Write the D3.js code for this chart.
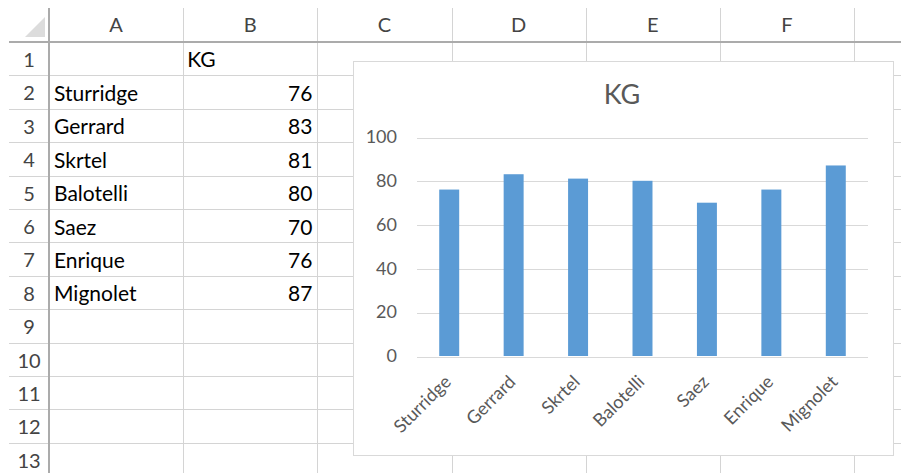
<!DOCTYPE html>
<meta charset="utf-8">
<style>
    body {
        margin: 0;
        background: #fff;
        font-family: Lato, "Open Sans", sans-serif;
    }

    .grid line {
        stroke: #d4d4d4;
        stroke-width: 1;
        shape-rendering: crispEdges;
    }

    .cell {
        font-size: 21px;
        fill: #000;
    }

    .head {
        font-size: 20px;
        fill: #444;
    }

    .y.axis line {
        stroke: #d9d9d9;
        shape-rendering: crispEdges;
    }

    .axis text {
        font-size: 18px;
        fill: #595959;
        font-family: Lato, "Open Sans", sans-serif;
    }
</style>

<body>
    <script src="https://d3js.org/d3.v7.min.js"></script>
    <script>

        // sheet data
        var players = ["Sturridge", "Gerrard", "Skrtel", "Balotelli", "Saez", "Enrique", "Mignolet"];
        var kg = [76, 83, 81, 80, 70, 76, 87];
        var seriesName = "KG";
        var colLetters = ["A", "B", "C", "D", "E", "F"];
        var rowNumbers = d3.range(1, 14);
        var yTicks = [0, 20, 40, 60, 80, 100];

        var W = 901, H = 473;

        var svg = d3.select("body")
            .append("svg")
            .attr("width", W)
            .attr("height", H);

        // spreadsheet grid
        var rowY = d3.scaleLinear().domain([0, 13]).range([42, 42 + 33.4 * 13]);
        var colX = d3.scaleLinear().domain([0, 6]).range([49, 854]);

        var grid = svg.append("g").attr("class", "grid");

        // horizontal row lines
        grid.selectAll(".rl")
            .data(d3.range(1, 14))
            .enter().append("line")
            .attr("x1", 9).attr("x2", W)
            .attr("y1", d => Math.round(rowY(d)) + 0.5)
            .attr("y2", d => Math.round(rowY(d)) + 0.5);

        // vertical column lines
        grid.selectAll(".cl")
            .data(d3.range(1, 7))
            .enter().append("line")
            .attr("x1", d => Math.round(colX(d)) + 0.5)
            .attr("x2", d => Math.round(colX(d)) + 0.5)
            .attr("y1", 8).attr("y2", H);

        // heavier header borders
        svg.append("line")
            .attr("x1", 9).attr("x2", W)
            .attr("y1", 42).attr("y2", 42)
            .attr("stroke", "#ababab").attr("stroke-width", 2);
        svg.append("line")
            .attr("x1", 49).attr("x2", 49)
            .attr("y1", 8).attr("y2", H)
            .attr("stroke", "#ababab").attr("stroke-width", 2);

        // corner triangle
        svg.append("path")
            .attr("d", "M25,37L45,37L45,17Z")
            .attr("fill", "#dcdcdc");

        // column letters
        svg.selectAll(".colhead")
            .data(colLetters)
            .enter().append("text")
            .attr("class", "head")
            .attr("x", (d, i) => (colX(i) + colX(i + 1)) / 2)
            .attr("y", 32)
            .attr("text-anchor", "middle")
            .text(d => d);

        // row numbers
        svg.selectAll(".rowhead")
            .data(rowNumbers)
            .enter().append("text")
            .attr("class", "head")
            .attr("x", 29)
            .attr("y", d => rowY(d - 1) + 25)
            .attr("text-anchor", "middle")
            .text(d => d);

        // cell contents
        svg.append("text")
            .attr("class", "cell")
            .attr("x", colX(1) + 4)
            .attr("y", rowY(0) + 25)
            .text(seriesName);

        svg.selectAll(".name")
            .data(players)
            .enter().append("text")
            .attr("class", "cell")
            .attr("x", colX(0) + 5)
            .attr("y", (d, i) => rowY(i + 1) + 25.5)
            .text(d => d);

        svg.selectAll(".val")
            .data(kg)
            .enter().append("text")
            .attr("class", "cell")
            .attr("x", colX(2) - 5)
            .attr("y", (d, i) => rowY(i + 1) + 25.5)
            .attr("text-anchor", "end")
            .text(d => d);

        // chart box
        svg.append("rect")
            .attr("x", 353.5).attr("y", 61.5)
            .attr("width", 540).attr("height", 394)
            .attr("fill", "#fff")
            .attr("stroke", "#d9d9d9");

        svg.append("text")
            .attr("x", 622)
            .attr("y", 104)
            .attr("text-anchor", "middle")
            .attr("font-size", "27px")
            .attr("fill", "#595959")
            .text(seriesName);

        var x = d3.scaleBand()
            .domain(players)
            .range([417, 868])
            .paddingInner(0.69)
            .paddingOuter(0.345);

        var y = d3.scaleLinear()
            .domain([0, 100])
            .range([356, 137]);

        // y axis + gridlines
        var yAxis = svg.append("g")
            .attr("class", "y axis")
            .attr("transform", "translate(417,0)")
            .call(d3.axisLeft(y).tickValues(yTicks).tickSize(-(868 - 417)).tickPadding(20));
        yAxis.select(".domain").remove();
        yAxis.selectAll(".tick line")
            .attr("transform", "translate(0,0.5)");

        // bars
        svg.selectAll(".bar")
            .data(kg)
            .enter().append("rect")
            .attr("class", "bar")
            .attr("x", (d, i) => x(players[i]))
            .attr("width", x.bandwidth())
            .attr("y", d => y(d))
            .attr("height", d => y(0) - y(d))
            .attr("fill", "#5b9bd5");

        // x axis labels
        var xAxis = svg.append("g")
            .attr("class", "x axis")
            .attr("transform", "translate(0," + y(0) + ")")
            .call(d3.axisBottom(x).tickSize(0));
        xAxis.select(".domain").remove();
        xAxis.selectAll("text")
            .attr("x", 0).attr("y", 0).attr("dy", 0)
            .attr("text-anchor", "end")
            .attr("transform", "translate(3,27) rotate(-45)");

    </script>
</body>
